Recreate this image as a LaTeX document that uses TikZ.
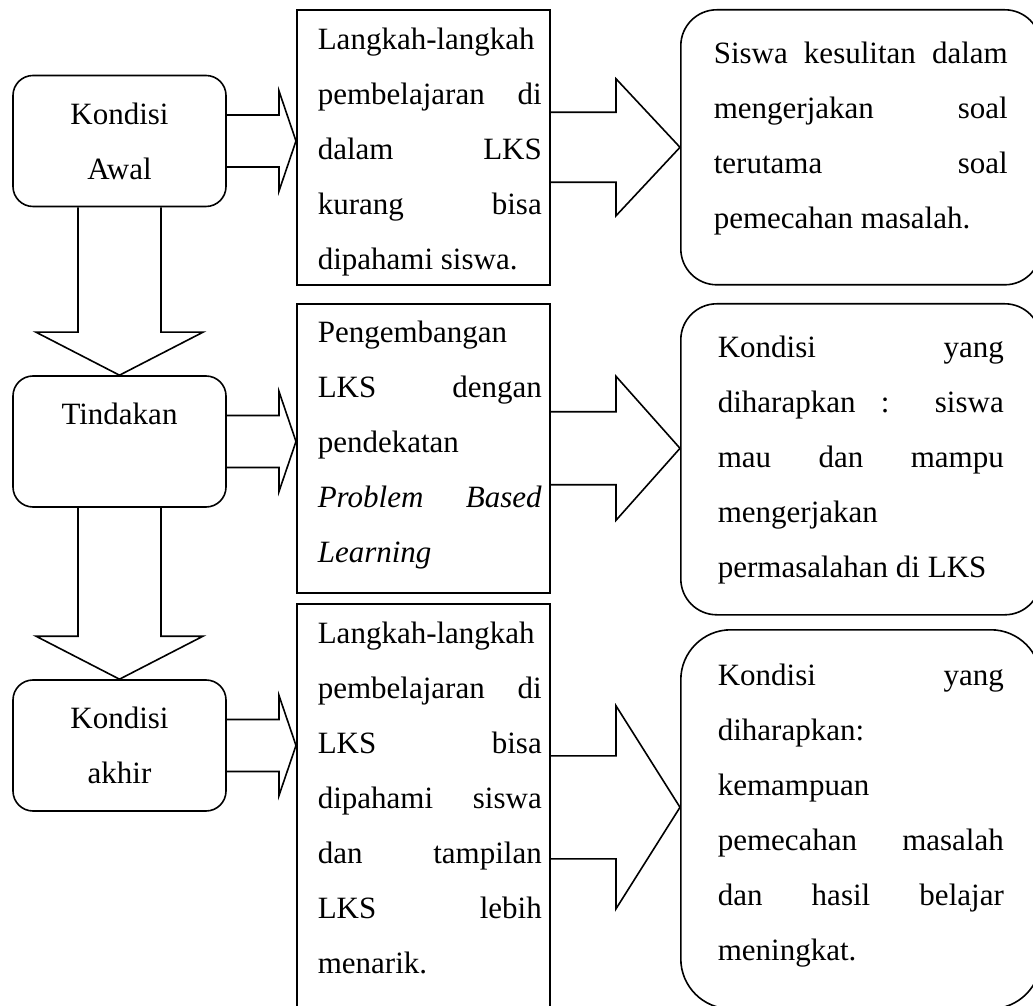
\documentclass[tikz,border=0pt]{standalone}
\usepackage{fontspec}
\setmainfont{Liberation Serif}
\usetikzlibrary{calc}

\newcommand{\teks}{\fontsize{31}{55}\selectfont}
\newcommand{\isian}[2]{\parbox[t]{#1}{\tolerance=10000\emergencystretch=0pt\hbadness=10000\hyphenpenalty=10000\exhyphenpenalty=10000 #2}}
\tikzset{
  garis/.style={line width=1.6pt},
  kondisi/.style={draw, line width=1.6pt, rounded corners=20pt, minimum width=213pt, minimum height=131pt, inner sep=0pt, align=center, font=\teks},
  isi/.style={draw, line width=1.6pt, anchor=north west, inner xsep=8pt, inner ysep=0pt, font=\teks},
  hasil/.style={isi, rounded corners=36pt},
}

\begin{document}
\begin{tikzpicture}[x=1pt,y=1pt]
\useasboundingbox (0,0) rectangle (1033,1005);
\clip (0,0) rectangle (1033,1005);
% kondisi
\node[kondisi] (awal) at (119.5,864) {Kondisi\\Awal};
\node[kondisi] (tindakan) at (119.5,563.5) {Tindakan\\\mbox{}};
\node[kondisi] (akhir) at (119.5,259.5) {Kondisi\\akhir};
% isi tengah
\node[isi, text height=40pt, text depth=235pt] (langkah) at (296,996) {\hspace*{13pt}\isian{224pt}{Langkah-langkah\linebreak pembelajaran di\linebreak dalam LKS\linebreak kurang bisa\linebreak dipahami siswa.}};
\node[isi, text height=39pt, text depth=250pt] (pengembangan) at (296,702) {\hspace*{13pt}\isian{224pt}{Pengembangan\linebreak LKS dengan\linebreak pendekatan\linebreak \textit{Problem Based}\linebreak \textit{Learning}}};
\node[isi, text height=40pt, text depth=367pt] (langkahakhir) at (296,402) {\hspace*{13pt}\isian{224pt}{Langkah-langkah\linebreak pembelajaran di\linebreak LKS bisa\linebreak dipahami siswa\linebreak dan tampilan\linebreak LKS lebih\linebreak menarik.}};
% hasil kanan
\node[hasil, inner xsep=33pt, text height=54pt, text depth=221pt] (kesulitan) at (680,996) {\isian{294pt}{Siswa kesulitan dalam\linebreak mengerjakan soal\linebreak terutama soal\linebreak pemecahan masalah.}};
\node[hasil, inner xsep=37pt, text height=54pt, text depth=257pt] (harapan) at (680,702) {\isian{286pt}{Kondisi yang\linebreak diharapkan : siswa\linebreak mau dan mampu\linebreak mengerjakan\linebreak permasalahan di LKS}};
\node[hasil, rounded corners=50pt, inner xsep=37pt, text height=56pt, text depth=323pt] (hasilakhir) at (680,376) {\isian{286pt}{Kondisi yang\linebreak diharapkan:\linebreak kemampuan\linebreak pemecahan masalah\linebreak dan hasil belajar\linebreak meningkat.}};
% panah blok ke kanan
\foreach \dari/\ke/\batang/\kepala/\panjang in {awal/langkah/26/50/17, tindakan/pengembangan/26/50/17, akhir/langkahakhir/26/50/17, langkah/kesulitan/35/68.5/64, pengembangan/harapan/36.5/72/64, langkahakhir/hasilakhir/51.5/101.5/64}
  \draw[garis] let \p1=(\dari.east), \p2=(\ke.west) in
    (\x1,\y1+\batang pt) -- (\x2-\panjang pt,\y1+\batang pt) -- (\x2-\panjang pt,\y1+\kepala pt) -- (\x2,\y1)
    -- (\x2-\panjang pt,\y1-\kepala pt) -- (\x2-\panjang pt,\y1-\batang pt) -- (\x1,\y1-\batang pt);
% panah blok ke bawah
\foreach \dari/\ke in {awal/tindakan, tindakan/akhir}
  \draw[garis] let \p1=(\dari.south), \p2=(\ke.north) in
    (\x1-41.5pt,\y1) -- (\x1-41.5pt,\y2+43pt) -- (\x1-83.5pt,\y2+43pt) -- (\x1,\y2)
    -- (\x1+83.5pt,\y2+43pt) -- (\x1+41.5pt,\y2+43pt) -- (\x1+41.5pt,\y1);
\end{tikzpicture}
\end{document}
